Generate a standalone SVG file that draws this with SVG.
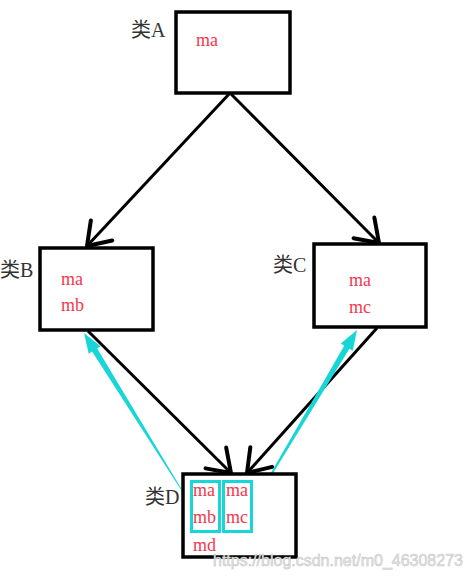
<svg xmlns="http://www.w3.org/2000/svg" width="471" height="579" viewBox="0 0 471 579">
<defs>
<marker id="vh" markerUnits="userSpaceOnUse" markerWidth="40" markerHeight="40" refX="0" refY="0" viewBox="-20 -15 24 30" orient="auto" overflow="visible">
<path d="M-16,-11 L0,0 L-16,11" fill="none" stroke="#000" stroke-width="3" stroke-linecap="round" stroke-linejoin="round"/>
</marker>
<style>
.box{fill:#fff;stroke:#000;stroke-width:3.5}
.cbox{fill:none;stroke:#18d5d8;stroke-width:3}
.lbl{font-family:"Liberation Serif","Noto Sans CJK SC",serif;font-size:20px;fill:#333}
.m{font-family:"Liberation Serif",serif;font-size:18px;fill:#f5384c}
.edge{fill:none;stroke:#000;stroke-width:3;marker-end:url(#vh)}
.cy{fill:#18d5d8}
.wm{font-family:"Liberation Sans",sans-serif;font-size:16px;fill:#e6e6e6;stroke:#c4c4c4;stroke-width:0.5}
</style>
</defs>
<rect width="471" height="579" fill="#fff"/>
<g id="connectors">
<path class="edge" d="M230,93 L87,246"/>
<path class="edge" d="M230,93 L379,243"/>
<path class="edge" d="M88,331 L231,473"/>
<path class="edge" d="M377,328 L247,473"/>
<polygon class="cy" points="84,333 100.5,346.3 97.2,348.4 181.4,488.7 180.6,489.3 92.1,351.6 88.7,353.7"/>
<polygon class="cy" points="357,330 352.8,350.8 349.4,348.7 253.4,505.3 252.6,504.7 344.2,345.7 340.8,343.6"/>
</g>
<g id="nodeA">
<rect class="box" x="176" y="12" width="114" height="81"/>
<text class="lbl" x="131" y="37">类A</text>
<text class="m" x="196" y="46">ma</text>
</g>
<g id="nodeB">
<rect class="box" x="40" y="248" width="113" height="82"/>
<text class="lbl" x="0" y="277">类B</text>
<text class="m" x="61" y="285">ma</text>
<text class="m" x="61" y="311">mb</text>
</g>
<g id="nodeC">
<rect class="box" x="314" y="244" width="112" height="83"/>
<text class="lbl" x="273" y="272">类C</text>
<text class="m" x="349" y="286">ma</text>
<text class="m" x="349" y="313">mc</text>
</g>
<g id="nodeD">
<rect class="box" x="183" y="474" width="113" height="83"/>
<text class="lbl" x="145" y="504">类D</text>
<rect class="cbox" x="191.5" y="481.5" width="28" height="50"/>
<rect class="cbox" x="223.5" y="481.5" width="28" height="50"/>
<text class="m" x="193" y="496">ma</text>
<text class="m" x="193" y="523">mb</text>
<text class="m" x="226" y="496">ma</text>
<text class="m" x="226" y="523">mc</text>
<text class="m" x="193" y="551">md</text>
</g>
<text class="wm" x="213" y="566">https://blog.csdn.net/m0_46308273</text>
</svg>
